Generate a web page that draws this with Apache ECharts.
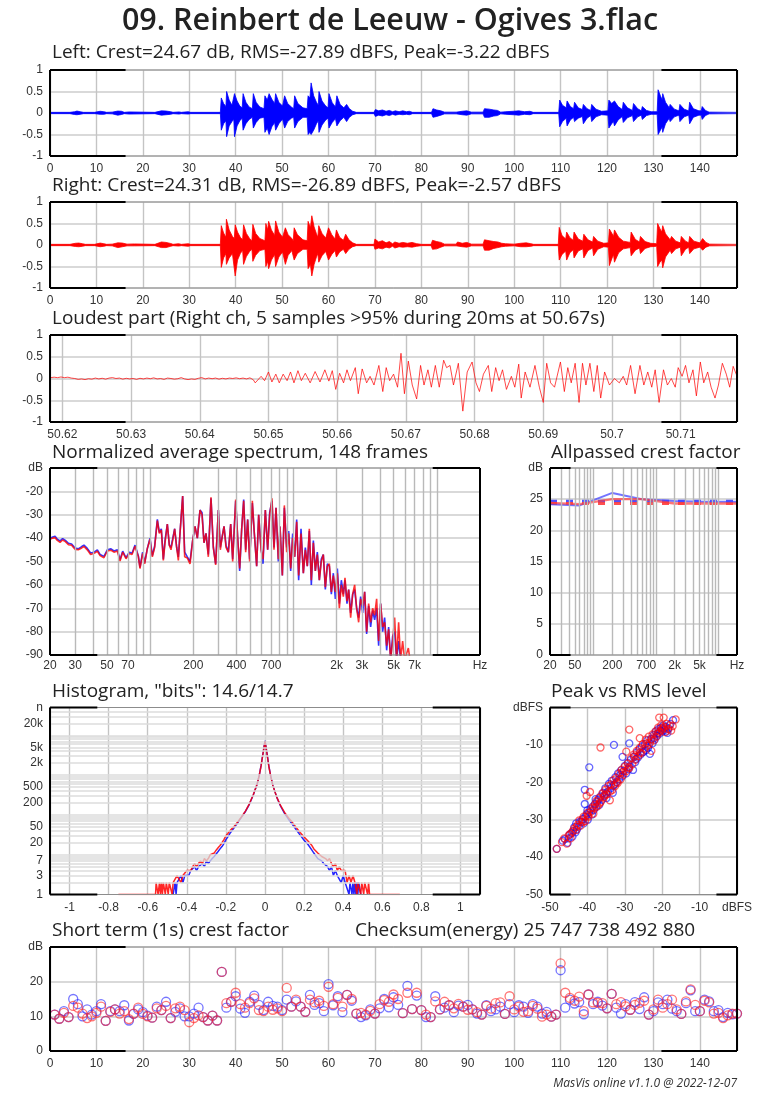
<!DOCTYPE html>
<html><head><meta charset="utf-8">
<script src="https://cdn.jsdelivr.net/npm/echarts@6/dist/echarts.min.js"></script>
<style>html,body{margin:0;padding:0;background:#fff}#c{width:770px;height:1099px}</style>
</head><body><div id="c"></div>
<script>
// ---------------- DATA ----------------
const titleText = '09. Reinbert de Leeuw - Ogives 3.flac';
const crestLeft = 24.67, crestRight = 24.31;
// waveform envelopes [time s, positive peak, negative peak]
const leftEnv = [[0,0.015,-0.015],[4.3,0.015,-0.015],[4.6,0.04,-0.04],[5.3,0.03,-0.035],[5.8,0.045,-0.04],[6.5,0.03,-0.03],[7.2,0.015,-0.015],[9.6,0.015,-0.015],[10,0.035,-0.035],[10.8,0.04,-0.03],[11.6,0.03,-0.03],[12.2,0.015,-0.015],[13.4,0.02,-0.02],[13.8,0.05,-0.05],[14.6,0.045,-0.05],[15.4,0.04,-0.035],[16,0.015,-0.015],[17,0.025,-0.025],[17.4,0.015,-0.015],[22.6,0.015,-0.015],[23,0.04,-0.04],[24,0.05,-0.05],[25,0.045,-0.04],[26,0.03,-0.03],[26.5,0.015,-0.015],[27.8,0.025,-0.025],[28.3,0.015,-0.015],[29.8,0.03,-0.025],[30.3,0.015,-0.015],[36.7,0.015,-0.015],
[36.9,0.35,-0.40],[37.4,0.22,-0.25],[37.9,0.15,-0.18],[38.05,0.50,-0.55],[38.6,0.30,-0.30],[39.2,0.18,-0.20],[39.6,0.14,-0.15],[39.75,0.45,-0.55],[40.3,0.28,-0.30],[40.9,0.16,-0.18],[41.4,0.12,-0.12],[41.6,0.45,-0.40],[42.2,0.25,-0.25],[42.9,0.14,-0.15],[43.6,0.10,-0.10],[43.8,0.45,-0.35],[44.4,0.25,-0.22],[45.2,0.14,-0.12],[46.1,0.10,-0.10],[46.3,0.40,-0.45],[46.8,0.30,-0.35],[47.2,0.45,-0.50],[47.8,0.32,-0.32],[48.4,0.22,-0.22],[48.6,0.45,-0.40],[49.3,0.25,-0.25],[50.1,0.16,-0.14],[50.4,0.12,-0.10],[50.55,0.40,-0.35],[51.2,0.22,-0.20],[52.0,0.14,-0.12],[52.5,0.10,-0.10],[52.7,0.40,-0.35],[53.4,0.22,-0.20],[54.5,0.12,-0.10],[55.4,0.10,-0.10],[55.6,0.40,-0.50],[56.0,0.35,-0.45],[56.25,0.70,-0.50],[56.8,0.40,-0.40],[57.4,0.25,-0.25],[57.8,0.18,-0.18],[57.95,0.50,-0.45],[58.6,0.28,-0.28],[59.4,0.16,-0.16],[59.9,0.12,-0.12],[60.1,0.45,-0.35],[60.8,0.24,-0.22],[61.5,0.14,-0.13],[61.8,0.40,-0.30],[62.5,0.20,-0.18],[63.3,0.12,-0.10],[63.7,0.08,-0.08],[63.9,0.20,-0.20],[64.5,0.10,-0.10],[65.2,0.04,-0.04],[66,0.015,-0.015],
[69.8,0.015,-0.015],[70.1,0.08,-0.08],[70.8,0.05,-0.05],[71.6,0.07,-0.07],[72.4,0.04,-0.04],[73.1,0.06,-0.06],[73.8,0.03,-0.03],[74.4,0.05,-0.05],[75.2,0.03,-0.03],[76,0.05,-0.04],[76.8,0.03,-0.03],[77.4,0.04,-0.04],[78.1,0.015,-0.015],[82.2,0.015,-0.015],[82.5,0.10,-0.10],[83.3,0.07,-0.08],[84.2,0.05,-0.05],[85,0.02,-0.02],[87.5,0.02,-0.02],[87.8,0.06,-0.06],[88.8,0.04,-0.04],[89.8,0.05,-0.05],[90.8,0.02,-0.02],[93.3,0.02,-0.02],[93.6,0.10,-0.10],[94.6,0.09,-0.10],[95.6,0.07,-0.07],[96.4,0.06,-0.06],[97.1,0.02,-0.02],[98.2,0.03,-0.03],[98.6,0.05,-0.05],[99.8,0.04,-0.04],[101,0.05,-0.05],[102.2,0.03,-0.03],[103.4,0.04,-0.04],[104.1,0.015,-0.015],
[109.6,0.015,-0.015],[109.8,0.30,-0.32],[110.4,0.18,-0.20],[111.2,0.12,-0.12],[111.4,0.28,-0.30],[112.1,0.15,-0.16],[112.8,0.10,-0.10],[113.0,0.25,-0.20],[113.8,0.12,-0.12],[114.7,0.08,-0.08],[114.9,0.20,-0.25],[115.7,0.10,-0.12],[116.5,0.06,-0.06],[116.7,0.20,-0.20],[117.6,0.09,-0.09],[118.8,0.04,-0.04],[120.2,0.05,-0.05],[120.4,0.30,-0.35],[121,0.22,-0.25],[121.4,0.18,-0.2],[121.6,0.28,-0.30],[122.4,0.15,-0.16],[123.3,0.08,-0.08],[123.5,0.25,-0.22],[124.4,0.12,-0.11],[125.5,0.06,-0.06],[125.7,0.22,-0.20],[126.6,0.10,-0.09],[127.4,0.05,-0.05],[127.6,0.15,-0.15],[128.5,0.06,-0.06],[129.5,0.03,-0.03],[130.8,0.03,-0.03],[131.0,0.54,-0.50],[131.5,0.40,-0.40],[131.9,0.30,-0.32],[132.0,0.45,-0.45],[132.6,0.25,-0.25],[133.4,0.12,-0.12],[133.6,0.20,-0.20],[134.5,0.09,-0.09],[135.5,0.05,-0.05],[135.7,0.20,-0.20],[136.6,0.09,-0.09],[137.6,0.05,-0.05],[137.8,0.25,-0.25],[138.6,0.10,-0.10],[139.8,0.05,-0.05],[140.3,0.05,-0.05],[140.5,0.15,-0.15],[141.2,0.06,-0.06],[142,0.02,-0.02],[148,0.015,-0.015]];
const rightEnv = [[0,0.015,-0.015],[4.3,0.015,-0.015],[4.6,0.04,-0.04],[5.5,0.04,-0.035],[6.2,0.045,-0.04],[7,0.03,-0.03],[7.6,0.015,-0.015],[9.6,0.015,-0.015],[10,0.04,-0.035],[10.8,0.045,-0.04],[11.6,0.03,-0.03],[12.2,0.015,-0.015],[13.4,0.02,-0.02],[13.8,0.06,-0.06],[14.6,0.05,-0.06],[15.6,0.045,-0.04],[16.6,0.02,-0.02],[18.2,0.025,-0.02],[18.6,0.015,-0.015],[22.6,0.015,-0.015],[23,0.05,-0.05],[24,0.07,-0.06],[25,0.06,-0.06],[26,0.035,-0.03],[26.5,0.015,-0.015],[27.7,0.03,-0.025],[28.3,0.015,-0.015],[29.8,0.03,-0.03],[30.3,0.015,-0.015],[36.7,0.015,-0.015],
[36.9,0.45,-0.52],[37.4,0.28,-0.30],[37.9,0.18,-0.20],[38.0,0.60,-0.45],[38.6,0.35,-0.30],[39.3,0.20,-0.20],[39.7,0.15,-0.16],[39.9,0.47,-0.72],[40.4,0.30,-0.35],[41.0,0.18,-0.20],[41.5,0.12,-0.12],[41.7,0.47,-0.45],[42.3,0.27,-0.27],[43.0,0.15,-0.15],[43.5,0.10,-0.10],[43.7,0.48,-0.38],[44.3,0.27,-0.24],[45.2,0.15,-0.13],[46.3,0.10,-0.10],[46.5,0.50,-0.50],[46.9,0.35,-0.38],[47.1,0.55,-0.55],[47.7,0.35,-0.35],[48.4,0.22,-0.22],[48.6,0.56,-0.50],[49.3,0.30,-0.28],[50.1,0.18,-0.16],[50.5,0.14,-0.12],[50.7,0.40,-0.45],[51.3,0.24,-0.24],[52.1,0.15,-0.13],[52.4,0.10,-0.10],[52.6,0.40,-0.35],[53.3,0.24,-0.20],[54.5,0.12,-0.10],[55.4,0.10,-0.10],[55.6,0.55,-0.55],[56.1,0.40,-0.45],[56.4,0.68,-0.72],[56.9,0.42,-0.45],[57.4,0.26,-0.28],[57.7,0.18,-0.2],[57.9,0.45,-0.40],[58.6,0.27,-0.25],[59.4,0.16,-0.15],[59.8,0.12,-0.12],[60.0,0.40,-0.35],[60.7,0.24,-0.22],[61.4,0.14,-0.13],[61.7,0.35,-0.28],[62.4,0.18,-0.16],[63.2,0.11,-0.10],[63.5,0.08,-0.08],[63.7,0.25,-0.20],[64.4,0.12,-0.10],[65.2,0.05,-0.04],[66,0.015,-0.015],
[69.8,0.015,-0.015],[70.0,0.14,-0.10],[70.8,0.07,-0.07],[71.6,0.10,-0.09],[72.4,0.05,-0.05],[73.1,0.08,-0.07],[73.8,0.03,-0.03],[74.3,0.07,-0.07],[75.2,0.04,-0.04],[76,0.06,-0.05],[77,0.04,-0.04],[78,0.06,-0.05],[79,0.03,-0.03],[80,0.015,-0.015],[82.1,0.015,-0.015],[82.4,0.11,-0.10],[83.3,0.08,-0.09],[84.2,0.06,-0.05],[85,0.02,-0.02],[87.5,0.02,-0.02],[87.8,0.07,-0.06],[88.8,0.04,-0.04],[89.8,0.06,-0.05],[90.8,0.02,-0.02],[93.3,0.02,-0.02],[93.6,0.12,-0.12],[94.6,0.10,-0.12],[95.6,0.08,-0.08],[96.5,0.07,-0.06],[97.3,0.04,-0.04],[98.1,0.03,-0.03],[100,0.02,-0.02],[100.4,0.05,-0.05],[101.4,0.04,-0.04],[102.6,0.05,-0.04],[103.6,0.03,-0.03],[104.2,0.015,-0.015],
[109.5,0.015,-0.015],[109.7,0.41,-0.35],[110.3,0.22,-0.22],[111.1,0.14,-0.14],[111.3,0.30,-0.35],[112.0,0.17,-0.18],[112.7,0.11,-0.11],[112.9,0.30,-0.30],[113.8,0.14,-0.14],[114.8,0.09,-0.09],[115.0,0.25,-0.30],[115.9,0.12,-0.13],[116.9,0.07,-0.07],[117.1,0.20,-0.25],[118.0,0.09,-0.10],[119.3,0.04,-0.04],[120.3,0.05,-0.05],[120.5,0.37,-0.48],[121.1,0.26,-0.30],[121.4,0.2,-0.22],[121.6,0.35,-0.40],[122.5,0.18,-0.18],[123.5,0.09,-0.09],[125.0,0.06,-0.06],[125.2,0.30,-0.25],[126.1,0.13,-0.12],[127.0,0.07,-0.07],[127.2,0.20,-0.20],[128.2,0.08,-0.08],[129.4,0.04,-0.04],[130.7,0.03,-0.03],[130.9,0.50,-0.50],[131.4,0.38,-0.40],[131.8,0.30,-0.35],[132.0,0.45,-0.53],[132.6,0.26,-0.28],[133.6,0.12,-0.12],[133.9,0.20,-0.20],[134.8,0.09,-0.09],[135.8,0.05,-0.05],[136.0,0.20,-0.25],[136.9,0.09,-0.10],[137.6,0.05,-0.05],[137.8,0.20,-0.20],[138.7,0.09,-0.09],[140.0,0.05,-0.05],[140.4,0.05,-0.05],[140.6,0.15,-0.12],[141.3,0.06,-0.05],[142.1,0.02,-0.02],[148,0.015,-0.015]];
// loudest part (right channel) [time s, amplitude]
const loudPart = [[50.6183,0.02],[50.6188,0.03],[50.6193,0.02],[50.6198,0.035],[50.6203,0.02],[50.6208,0.03],[50.6213,0.01],[50.6218,0.0],[50.6223,-0.02],[50.6228,-0.01],[50.6233,-0.025],[50.6238,-0.005],[50.6243,-0.015],[50.6248,0.01],[50.6253,-0.01],[50.6258,0.005],[50.6263,-0.015],[50.6268,0.01],[50.6273,0.02],[50.6278,0.0],[50.6283,0.01],[50.6288,-0.015],[50.6293,0.005],[50.6298,-0.01],[50.6303,0.0],[50.6308,-0.02],[50.6313,0.005],[50.6318,-0.01],[50.6323,0.01],[50.6328,-0.005],[50.6333,0.015],[50.6338,-0.01],[50.6343,0.0],[50.6348,-0.02],[50.6353,0.01],[50.6358,0.0],[50.6363,-0.015],[50.6368,-0.005],[50.6373,0.02],[50.6378,-0.01],[50.6383,-0.025],[50.6388,-0.01],[50.6393,-0.02],[50.6398,0.005],[50.6403,0.02],[50.6408,-0.01],[50.6413,0.01],[50.6418,-0.005],[50.6423,0.01],[50.6428,-0.015],[50.6433,0.005],[50.6438,-0.01],[50.6443,0.01],[50.6448,0.0],[50.6453,0.015],[50.6458,-0.005],[50.6463,0.01],[50.6468,-0.01],[50.6473,0.015],[50.6478,-0.03],
[50.64807,-0.1],[50.64893,0.05],[50.64943,-0.05],[50.65,0.15],[50.6505,-0.08],[50.65107,0.1],[50.65157,-0.1],[50.65214,0.1],[50.65271,-0.05],[50.65321,0.15],[50.65371,-0.1],[50.65429,0.18],[50.65479,-0.05],[50.65536,0.12],[50.65607,-0.1],[50.65679,0.16],[50.6575,-0.08],[50.65821,0.2],[50.65879,-0.06],[50.65929,0.18],[50.65979,-0.25],[50.66036,0.12],[50.66093,-0.1],[50.66143,0.2],[50.66193,-0.05],[50.66264,0.25],[50.66307,-0.35],[50.66364,0.22],[50.66429,-0.1],[50.66479,0.05],[50.66536,-0.15],[50.66607,0.3],[50.66664,-0.3],[50.66714,0.25],[50.66764,-0.05],[50.66821,0.1],[50.66879,-0.2],[50.66929,0.58],[50.66979,-0.35],[50.67036,0.4],[50.67093,-0.15],[50.67157,-0.47],[50.67214,0.3],[50.67264,-0.15],[50.67321,0.2],[50.67371,-0.2],[50.67429,0.3],[50.67486,-0.2],[50.6755,0.42],[50.67593,0.25],[50.67643,0.3],[50.67693,-0.15],[50.67764,0.35],[50.67829,-0.75],[50.67893,0.15],[50.67964,0.38],[50.68021,-0.1],[50.68071,-0.3],[50.68129,0.1],[50.682,0.3],[50.6825,-0.3],[50.68307,0.25],[50.68357,-0.05],[50.68407,0.2],[50.68464,-0.25],[50.68536,0.05],[50.68586,-0.2],[50.68643,0.33],[50.68679,-0.45],[50.68736,0.15],[50.68807,-0.2],[50.68879,0.3],[50.68943,-0.2],[50.69,-0.55],[50.6905,0.35],[50.69107,-0.1],[50.69164,-0.2],[50.6925,0.38],[50.69307,-0.3],[50.69357,0.25],[50.69407,-0.1],[50.69464,0.35],[50.69521,-0.55],[50.69571,0.35],[50.69621,-0.15],[50.69679,0.35],[50.69736,-0.3],[50.69786,0.3],[50.69836,-0.45],[50.69893,0.15],[50.69964,-0.15],[50.70036,0.0],[50.70107,-0.1],[50.70164,0.05],[50.70214,-0.15],[50.70271,0.3],[50.70336,-0.35],[50.70407,0.3],[50.70464,-0.15],[50.70521,0.15],[50.70579,-0.2],[50.70629,0.2],[50.70686,-0.55],[50.7075,0.2],[50.70807,-0.15],[50.70864,0.0],[50.70921,-0.2],[50.70964,0.25],[50.71021,0.05],[50.71071,0.3],[50.71121,-0.1],[50.71179,0.2],[50.71229,-0.4],[50.71286,0.38],[50.71336,-0.1],[50.71393,0.15],[50.71443,-0.2],[50.715,-0.45],[50.7155,-0.15],[50.71607,0.35],[50.71664,0.1],[50.71714,-0.2],[50.71764,0.28],[50.71821,0.05]];
// spectrum
const specFreq = [20,20.9,21.7,22.5,23.5,24.5,25.6,26.9,28.3,29.9,31.5,33.3,34.5,36.4,38.4,40.6,42.8,44.7,47.6,50.2,53.3,55.9,59.0,61.6,64.3,67.8,71.5,74.7,78.4,82.7,84.9,88.6,91.5,95.5,99.7,103.5,107.4,112.2,115.8,119.6,123.5,126.9,131.7,136.0,139.7,143.5,148.2,153.0,157.2,161.4,168.5,174.0,181.6,189.6,197.9,205.4,213.3,222.6,229.9,237.4,245.1,254.5,265.6,275.8,286.3,298.9,308.6,318.7,327.4,338.1,351.0,364.5,376.3,394.9,407.8,421.1,434.9,449.1,463.7,478.8,494.4,516.0,532.9,553.2,571.3,593.2,612.5,635.9,660.1,681.8,707.8,730.9,754.8,783.6,805.0,835.7,863.0,896.0,925.2,955.4,986.5,1019,1052,1086,1128,1171,1209,1248,1289,1331,1375,1420,1466,1514,1563,1614,1667,1721,1778,1836,1896,1958,2022,2088,2156,2226,2286,2361,2425,2504,2586,2670,2757,2847,2940,3036,3135,3237,3343,3452,3565,3681,3801,3925,4054,4186,4322,4464,4609,4759,4915,5075,5241,5412,5588,5771,5959,6325,6495];
const specRight = [-40.5,-40,-39.8,-41,-41.8,-40.8,-41.5,-42.8,-43,-44.8,-45,-44.2,-43.6,-45,-47,-46.5,-45.6,-47.5,-48.4,-45.5,-45.2,-46,-45.5,-49.8,-46,-48.8,-46.6,-47,-43.5,-48,-53,-46.5,-51,-44.5,-40.5,-48,-44,-32.5,-38,-36.5,-49.5,-42,-34,-43,-45,-45,-36,-44,-49.5,-38,-22,-48,-48.5,-51,-41,-35,-40,-28,-30,-42,-38,-48,-22.5,-44,-51.5,-28,-45,-39,-35,-44,-46,-34,-50,-23.5,-40,-53,-36,-24,-46,-32,-50,-24,-38,-52,-30,-45,-49,-28,-45,-30,-23,-45,-27,-49,-35,-56,-26,-46,-38,-53,-40,-48,-33,-56,-38,-55,-45,-52,-36,-58,-42,-54,-47,-58,-50,-47,-61,-52,-51,-63,-56,-63,-55,-70,-60,-65,-57,-67,-62,-74,-64,-60,-70,-76,-66,-69,-63,-80,-68,-76,-70,-73,-66,-84,-68,-78,-76,-86,-79,-92,-84,-74,-92,-76,-92,-84,-92,-87,-92];
const specLeft = [-40,-39.5,-39.2,-40.5,-41.2,-40.2,-41,-42.2,-42.5,-44.2,-44.6,-43.6,-43,-44.4,-46.4,-46,-45,-47,-47.8,-45,-44.6,-45.5,-45,-49.2,-45.6,-48.4,-46,-46.5,-43,-47.6,-52.5,-46,-50.5,-44.5,-40,-47.5,-43.5,-32,-37.5,-36,-49,-41,-34,-43,-44,-44,-36,-44,-48,-38,-22,-46,-48,-50,-41,-35,-40,-28,-29,-42,-38,-47,-23,-44,-51,-28,-44,-39,-35,-43,-46,-34,-49,-24,-40,-54,-36,-23.5,-45,-32,-49,-25,-38,-52,-30,-44,-51,-28,-45,-29,-24,-44,-27,-50,-35,-56,-27,-44,-37,-54,-38,-48,-32,-58,-36,-55,-44,-52,-37,-60,-41,-54,-46,-58,-49,-47,-62,-51,-52,-64,-55,-66,-53,-68,-58,-64,-58,-68,-62,-72,-64,-62,-70,-74,-65,-72,-63,-81,-69,-78,-71,-75,-70,-86,-68,-80,-74,-88,-78,-92,-82,-80,-92,-84,-92,-92,-92,-92,-92];
const specGridFreq = [30,40,50,60,70,80,90,100,200,300,400,500,600,700,800,900,1000,2000,3000,4000,5000,6000,7000,8000,9000,10000];
const specTickFreq = [20,30,50,70,200,400,700,2000,3000,5000,7000,20000];
const specTickText = ['20','30','50','70','200','400','700','2k','3k','5k','7k','Hz'];
// allpassed crest factor
const apFreq = [20,60,200,600,2000,6000,20000];
const apLeft = [24.2,24.0,26.0,25.0,24.7,24.6,24.6];
const apRight = [24.4,24.2,25.0,25.0,24.3,24.3,24.3];
const apTickFreq = [20,50,200,700,2000,5000,20000];
const apTickText = ['20','50','200','700','2k','5k','Hz'];
// histogram [sample value, count]
const histRight = [[-0.75,1],[-0.56,1],[-0.557,2],[-0.55,2],[-0.547,1],[-0.54,2],[-0.535,1],[-0.53,2],[-0.525,1],[-0.52,2],[-0.515,2],[-0.51,1],[-0.505,2],[-0.5,2],[-0.495,1],[-0.49,2],[-0.48,2],[-0.475,1],[-0.47,2],[-0.46,2],[-0.45,3],[-0.44,3],[-0.43,2],[-0.42,3],[-0.41,3],[-0.4,4],[-0.39,4],[-0.38,4],[-0.37,5],[-0.36,6],[-0.35,5],[-0.34,6],[-0.33,7],[-0.32,6],[-0.31,8],[-0.3,7],[-0.29,8],[-0.28,10],[-0.27,9],[-0.26,11],[-0.25,13],[-0.24,15],[-0.23,17],[-0.22,20],[-0.21,24],[-0.2,30],[-0.19,34],[-0.18,40],[-0.16,50],[-0.14,66],[-0.12,90],[-0.1,125],[-0.08,190],[-0.06,320],[-0.04,600],[-0.03,950],[-0.02,1700],[-0.01,3500],[0,7000],[0.01,3500],[0.02,1600],[0.03,900],[0.04,550],[0.06,280],[0.08,170],[0.1,115],[0.12,85],[0.14,65],[0.16,48],[0.18,36],[0.2,28],[0.22,22],[0.24,17],[0.25,14],[0.26,13],[0.27,11],[0.28,12],[0.29,9],[0.3,10],[0.31,8],[0.32,7],[0.33,8],[0.34,6],[0.35,5],[0.36,6],[0.37,4],[0.38,5],[0.39,4],[0.4,4],[0.41,4],[0.42,2],[0.43,3],[0.44,2],[0.45,3],[0.46,2],[0.47,1],[0.475,2],[0.48,2],[0.49,1],[0.495,2],[0.5,2],[0.505,1],[0.51,2],[0.52,2],[0.525,1],[0.53,2],[0.535,1],[0.69,1]];
const histLeft = [[-0.47,1],[-0.46,2],[-0.455,1],[-0.45,2],[-0.44,2],[-0.43,3],[-0.42,2],[-0.41,3],[-0.4,3],[-0.39,3],[-0.38,4],[-0.37,4],[-0.36,5],[-0.35,4],[-0.34,5],[-0.33,5],[-0.32,6],[-0.31,5],[-0.3,7],[-0.29,6],[-0.28,7],[-0.27,8],[-0.26,9],[-0.25,10],[-0.24,12],[-0.23,14],[-0.22,16],[-0.21,19],[-0.2,24],[-0.19,28],[-0.18,34],[-0.16,46],[-0.14,63],[-0.12,88],[-0.1,122],[-0.08,185],[-0.06,315],[-0.04,600],[-0.03,960],[-0.02,1750],[-0.01,3600],[0,7300],[0.01,3600],[0.02,1650],[0.03,920],[0.04,560],[0.06,280],[0.08,165],[0.1,110],[0.12,78],[0.14,58],[0.16,42],[0.18,31],[0.2,23],[0.22,18],[0.24,13],[0.25,11],[0.26,10],[0.27,8],[0.28,8],[0.29,7],[0.3,6],[0.31,6],[0.32,5],[0.33,4],[0.34,5],[0.35,3],[0.36,4],[0.37,3],[0.38,3],[0.39,2],[0.4,3],[0.41,2],[0.42,2],[0.43,1],[0.435,2],[0.44,2],[0.445,1],[0.45,2],[0.455,1],[0.46,2],[0.465,1],[0.47,2],[0.475,1],[0.48,2],[0.49,1]];
const histGridCount = [2,3,4,5,6,7,8,9,10,20,30,40,50,60,70,80,90,100,200,300,400,500,600,700,800,900,1000,2000,3000,4000,5000,6000,7000,8000,9000,10000,20000,30000,40000];
const histTickCount = [1,3,7,20,50,200,500,2000,5000,20000,50000];
const histTickText = ['1','3','7','20','50','200','500','2k','5k','20k','n'];
// peak vs RMS [rms dBFS, peak dBFS]
const pvrLeft = [[-48.2,-37.8],[-46.6,-35.6],[-46,-35.2],[-45.3,-36.2],[-45,-35],[-44.8,-34],[-44.2,-33.6],[-44,-34.5],[-43.8,-33],[-43.5,-32],[-43.2,-33.4],[-43,-31],[-42.8,-32.6],[-42.3,-31.8],[-42,-30.5],[-41.6,-30.6],[-41.2,-29.8],[-41,-31],[-40.7,-22],[-40.7,-25.8],[-40.5,-29.2],[-40.2,-28.6],[-40,-27.5],[-39.9,-30],[-39.5,-16],[-39.5,-28],[-39.2,-27.2],[-38.8,-28.6],[-38.6,-26.5],[-38.3,-27.4],[-38,-25.8],[-37.8,-24.5],[-37.7,-26.6],[-37.4,-25.2],[-37,-24.6],[-36.8,-26],[-36.5,-23.8],[-36.1,-24.7],[-35.8,-22.8],[-35.5,-23.6],[-35.2,-21.6],[-35,-23],[-34.9,-24.2],[-34.5,-22.5],[-34.2,-20.4],[-33.8,-21.6],[-33.5,-19.6],[-33.2,-22.8],[-33,-20.8],[-32.9,-10],[-32.8,-20.6],[-32.5,-18.6],[-32.2,-20],[-31.8,-17.6],[-31.5,-19.2],[-31.2,-18],[-31,-16.8],[-30.7,-18.4],[-30.6,-13.2],[-30.3,-17],[-30,-15.6],[-29.6,-17.6],[-29.2,-14.8],[-29,-16.5],[-28.8,-9.6],[-28.8,-15.8],[-28.4,-14],[-27.8,-16.7],[-27.6,-13.2],[-27.2,-14.6],[-27,-13.8],[-26.8,-12],[-26.5,-13.4],[-26.1,-11.2],[-25.8,-12.6],[-25.4,-10.4],[-25.2,-12],[-25,-11.8],[-24.6,-9.8],[-24.3,-11.4],[-24,-8.8],[-23.8,-10.8],[-23.6,-10.2],[-23.3,-12.4],[-23,-8.4],[-22.6,-9.6],[-22.3,-7.4],[-22.2,-8.2],[-22,-8.6],[-21.7,-6.4],[-21.4,-7.6],[-21.2,-6.9],[-21,-5.8],[-20.7,-7],[-20.5,-6.2],[-20.3,-5.4],[-20,-6.4],[-19.7,-4.8],[-19.5,-5.6],[-19.3,-6],[-19,-5.2],[-18.9,-6.4],[-18.6,-6.8],[-18.3,-5.6],[-17.8,-4.4],[-17.1,-3.4]];
const pvrRight = [[-48.2,-37.8],[-46.8,-36],[-46.2,-35],[-45.5,-36.4],[-45,-34.2],[-44.5,-35],[-44,-33.2],[-43.6,-32.4],[-43,-32.8],[-42.6,-31.4],[-42.2,-30.2],[-41.8,-31.6],[-41.4,-30],[-41,-29.2],[-40.6,-30.4],[-40.2,-23.6],[-40,-28.2],[-39.7,-29.2],[-39.3,-22.6],[-39,-27.8],[-38.7,-26.8],[-38.4,-28.4],[-38,-26],[-37.6,-25],[-37.3,-26.4],[-36.9,-24.2],[-36.5,-10.7],[-36.4,-25.2],[-36,-23],[-35.6,-24],[-35.2,-22],[-34.8,-23.2],[-34.4,-21],[-34,-24.8],[-33.7,-20.6],[-33.3,-22],[-33,-19.4],[-32.6,-21],[-32.3,-18.8],[-31.9,-20.2],[-31.5,-17.6],[-31.1,-19.2],[-30.8,-16.6],[-30.4,-18],[-30,-15.8],[-29.6,-11.8],[-29.6,-17],[-29.2,-15],[-28.8,-5.9],[-28.8,-16.2],[-28.4,-13.6],[-28,-15.2],[-27.6,-12.6],[-27.2,-14],[-26.8,-11.6],[-26.4,-13],[-26,-8.2],[-26,-10.8],[-25.6,-12.2],[-25.2,-9.8],[-24.8,-11],[-24.4,-8.6],[-24,-10.2],[-23.6,-7.8],[-23.3,-9.4],[-22.9,-11.6],[-22.6,-7.2],[-22.2,-8.8],[-21.8,-6.4],[-21.5,-7.8],[-21.1,-5.4],[-20.8,-2.7],[-20.7,-6.6],[-20.3,-4.8],[-20,-6],[-19.6,-2.7],[-19.6,-5.2],[-19.2,-6.6],[-18.8,-4.4],[-18.4,-5.8],[-18,-4.8],[-17.6,-6.2],[-17.2,-5],[-16.4,-3.2],[-44.6,-33.8],[-42.9,-31.9],[-41.2,-30.6],[-39.8,-28.8],[-38.2,-27],[-36.7,-25.6],[-35.4,-23.4],[-33.9,-22.4],[-32.1,-19.9],[-30.6,-17.3],[-29,-16],[-27.4,-13.1],[-25.9,-12],[-24.2,-9.6],[-22.8,-8.5],[-21.3,-7],[-19.9,-5.6]];
// short-term (1 s) crest factor, one value per second (1..148)
const stLeft = [10.5,9.3,11.5,9.8,15,13.5,10,12,10.5,11.5,13.5,8.7,11.5,12,11.5,13.2,8.8,10.7,12,11.2,10.2,9.6,12.8,11.8,14.2,9.5,11.3,12.3,10,10,10.8,12.5,9.8,8.8,10.2,8.8,22.8,12.5,14.2,15.8,12.2,11,14.2,16,13.3,11.8,14.2,13,12.8,11.8,14.8,12.8,14.3,12.8,11.3,16.2,13.3,13.8,11.5,19.3,13.2,15.8,11.2,16.2,14.5,10.8,9.8,10.3,12,10.8,12.3,15,12.6,15.5,13.3,10.9,18.8,12.1,16,11.8,9.8,9.8,15.8,12,12.5,13.2,11.2,13.1,12.8,13.3,12,10.8,10.5,13.2,11.5,12,12.8,10.7,13.5,11.2,13.2,12.8,11,13.5,12.8,10.8,11.3,9.9,10.5,23.3,12.5,14.8,13.7,14.1,10.6,16.3,13.5,14.2,13.1,12.3,16.5,12.5,10.8,13.5,11.9,14.1,12.1,15.5,10.5,11.5,14,13.5,14.8,12.2,11.5,10.7,13.8,17.5,11.5,11.5,14.8,14.3,11.5,11.8,9.8,11,10.6,10.8];
const stRight = [10.5,9.3,11,9.8,13,12.5,10.8,9.5,10,11,12.8,8.7,11.3,12,10.8,11.5,9.2,10.8,12.5,10.7,10,9.6,12.3,11.8,13,9.5,12.3,12.8,11.8,8.3,9.5,10.3,9.8,8.8,10.2,8.8,22.8,13.8,14.2,16.8,13.5,12.5,13.8,15.2,11.8,11.5,12.8,11.9,12.3,11.5,18.2,12.8,14.8,12.8,11.3,14.8,14,14.5,13,18.5,13.5,15.3,12.8,16.2,15,10.8,11,10.5,11.6,10.8,13.5,14.7,14.2,16.3,15,10.9,16.8,12.1,16.8,11.8,10.5,9.8,14.3,12,14.2,13.2,12.3,13.6,12.8,11.9,12,11.2,10.5,13,12.2,13.8,14,10.7,15.8,12,12.8,11.3,11.5,13,12.2,9.9,10.5,9.9,10.5,25.3,16.8,15.3,14.5,15.7,11.5,16.3,14,13.9,13.8,12.3,16.5,13.5,14.1,12.9,11.9,13.3,13.9,14.5,10.5,12,14.8,12.5,13.5,14.8,12,10.7,14.3,17.8,13.3,11.5,14.5,14,10.8,11,9.5,10.3,10.8,10.8];

// ---------------- CHART ----------------
const FONT = '"Liberation Sans", Arial, sans-serif';
const TFONT = '"Open Sans", sans-serif';
const BLUE = '#0000ff', RED = '#ff0000';
const G = [[50,70,687,86],[50,202,687,86],[50,335,687,87],[50,468,430,187],[550,468,187,187],[50,707.5,430,187],[550,707.5,187,187],[50,947,687,104]];

function axis(gi, o, label, split) {
  return Object.assign({
    gridIndex: gi, type: 'value', axisLine: {show: false}, axisTick: {show: false},
    axisLabel: Object.assign({color: '#333', fontSize: 12, fontFamily: FONT, margin: 7}, label || {}),
    splitLine: Object.assign({show: true, lineStyle: {color: '#cfcfcf', width: 1.5}}, split || {})
  }, o);
}
const tens = v => (Math.abs(v % 10) < 1e-9 ? String(v) : '');
const vGrid = {lineStyle: {color: '#c4c4c4', width: 1.4}};
const hGrid = {lineStyle: {color: '#d9d9d9', width: 2}};

const xAxis = [
  axis(0, {min: 0, max: 148, interval: 10}, {formatter: tens}, vGrid),
  axis(1, {min: 0, max: 148, interval: 10}, {formatter: tens}, vGrid),
  axis(2, {min: 50.6182, max: 50.7182, splitNumber: 10}, {showMinLabel: false, showMaxLabel: false}, vGrid),
  axis(3, {type: 'log', logBase: 10, min: 20, max: 20000}, {show: false}, {show: false}),
  axis(4, {type: 'log', logBase: 10, min: 20, max: 20000}, {show: false}, {show: false}),
  axis(5, {min: -1.1, max: 1.1, splitNumber: 11}, {showMinLabel: false, showMaxLabel: false}, vGrid),
  axis(6, {min: -50, max: 0, interval: 10}, {formatter: v => v === 0 ? 'dBFS' : String(v)}, vGrid),
  axis(7, {min: 0, max: 148, interval: 10}, {formatter: tens}, vGrid)
];
const yAxis = [
  axis(0, {min: -1, max: 1, interval: 0.5}, {}, hGrid),
  axis(1, {min: -1, max: 1, interval: 0.5}, {}, hGrid),
  axis(2, {min: -1, max: 1, interval: 0.5}, {}, hGrid),
  axis(3, {min: -90, max: -10, interval: 10}, {formatter: v => v === -10 ? 'dB' : String(v)}, hGrid),
  axis(4, {min: 0, max: 30, interval: 5}, {formatter: v => v === 30 ? 'dB' : String(v)}, hGrid),
  axis(5, {type: 'log', logBase: 10, min: 1, max: 50000}, {show: false}, {show: false}),
  axis(6, {min: -50, max: 0, interval: 10}, {formatter: v => v === 0 ? 'dBFS' : String(v)}, hGrid),
  axis(7, {min: 0, max: 30, interval: 10}, {formatter: v => v === 30 ? 'dB' : String(v)}, hGrid)
];

function gridLines(i, vals, dim, color, width) {
  return {type: 'line', xAxisIndex: i, yAxisIndex: i, data: [], silent: true, z: 1,
    markLine: {silent: true, symbol: ['none', 'none'], animation: false, label: {show: false},
      lineStyle: {color: color, width: width, type: 'solid'},
      emphasis: {disabled: true},
      data: vals.map(v => ({[dim]: v}))}};
}
function tickLabels(i, vals, texts, dim, dist) {
  return {type: 'line', xAxisIndex: i, yAxisIndex: i, data: [], silent: true, z: 1,
    markLine: {silent: true, symbol: ['none', 'none'], animation: false,
      lineStyle: {color: 'rgba(0,0,0,0)', width: 1, type: 'solid'},
      emphasis: {disabled: true},
      label: {show: true, position: 'start', distance: dist, color: '#333', fontSize: 12, fontFamily: FONT},
      data: vals.map((v, k) => ({[dim]: v, label: {show: true, formatter: texts[k]}}))}};
}
function wave(i, env, color) {
  const base = {type: 'line', xAxisIndex: i, yAxisIndex: i, symbol: 'none', z: 3,
    lineStyle: {color: color, width: 0.8}, areaStyle: {color: color, opacity: 1}};
  return [Object.assign({data: env.map(d => [d[0], d[1]])}, base),
          Object.assign({data: env.map(d => [d[0], d[2]])}, base)];
}
function line(i, data, color, width, extra) {
  return Object.assign({type: 'line', xAxisIndex: i, yAxisIndex: i, symbol: 'none', z: 3,
    data: data, lineStyle: {color: color, width: width}}, extra || {});
}
function scatter(i, data, color, size) {
  return {type: 'scatter', xAxisIndex: i, yAxisIndex: i, data: data, symbol: 'circle', symbolSize: size, z: 3,
    itemStyle: {color: 'rgba(0,0,0,0)', borderColor: color, borderWidth: 1.3}};
}

const series = [].concat(
  wave(0, leftEnv, BLUE),
  wave(1, rightEnv, RED),
  [line(2, loudPart, 'rgba(255,0,0,0.72)', 1)],
  [gridLines(3, specGridFreq, 'xAxis', '#b9b9b9', 1.4), tickLabels(3, specTickFreq, specTickText, 'xAxis', 5),
   line(3, specFreq.map((f, k) => [f, specLeft[k]]), 'rgba(0,0,255,0.8)', 1.6),
   line(3, specFreq.map((f, k) => [f, specRight[k]]), 'rgba(255,0,0,0.8)', 1.6)],
  [gridLines(4, specGridFreq, 'xAxis', '#b9b9b9', 1.4), tickLabels(4, apTickFreq, apTickText, 'xAxis', 5),
   line(4, [[20, crestLeft], [20000, crestLeft]], 'rgba(60,60,255,0.9)', 3, {lineStyle: {color: 'rgba(60,60,255,0.9)', width: 3, type: [7, 9]}}),
   line(4, [[20, crestRight], [20000, crestRight]], 'rgba(255,60,60,0.9)', 3, {lineStyle: {color: 'rgba(255,60,60,0.9)', width: 3, type: [7, 9]}}),
   line(4, apFreq.map((f, k) => [f, apLeft[k]]), 'rgba(70,70,255,0.75)', 2),
   line(4, apFreq.map((f, k) => [f, apRight[k]]), 'rgba(255,60,60,0.7)', 2.4)],
  [gridLines(5, histGridCount, 'yAxis', '#dcdcdc', 1.5), tickLabels(5, histTickCount, histTickText, 'yAxis', 7),
   line(5, histLeft, 'rgba(0,0,255,0.85)', 1.5),
   line(5, histRight, 'rgba(255,0,0,0.85)', 1.5)],
  [scatter(6, pvrLeft, 'rgba(0,0,255,0.75)', 7), scatter(6, pvrRight, 'rgba(255,0,0,0.75)', 7)],
  [scatter(7, stLeft.map((v, k) => [k + 1, v]), 'rgba(40,40,255,0.8)', 9),
   scatter(7, stRight.map((v, k) => [k + 1, v]), 'rgba(255,40,40,0.8)', 9)]
);

function frame(g) {
  const [l, t, w, h] = g, s = w * 0.11;
  const L = (x1, y1, x2, y2) => ({type: 'line', silent: true, z: 100, shape: {x1, y1, x2, y2}, style: {stroke: '#000', lineWidth: 2}});
  return [
    {type: 'rect', silent: true, z: 99, shape: {x: l, y: t, width: w, height: h}, style: {fill: null, stroke: '#8c8c8c', lineWidth: 1}},
    L(l, t, l, t + h), L(l + w, t, l + w, t + h),
    L(l, t, l + s, t), L(l + w - s, t, l + w, t),
    L(l, t + h, l + s, t + h), L(l + w - s, t + h, l + w, t + h)
  ];
}
function txt(x, y, s, font, align, color) {
  return {type: 'text', x: x, y: y, silent: true, z: 100,
    style: {text: s, fill: color || '#222', font: font || ('19px ' + TFONT), align: align || 'left', textAlign: align || 'left', verticalAlign: 'middle', textVerticalAlign: 'middle'}};
}
let graphics = [];
G.forEach(g => { graphics = graphics.concat(frame(g)); });
graphics.push(
  txt(390, 21, titleText, '600 30.5px ' + TFONT, 'center', '#222'),
  txt(52, 53, 'Left: Crest=24.67 dB, RMS=-27.89 dBFS, Peak=-3.22 dBFS'),
  txt(52, 186, 'Right: Crest=24.31 dB, RMS=-26.89 dBFS, Peak=-2.57 dBFS'),
  txt(52, 319, 'Loudest part (Right ch, 5 samples >95% during 20ms at 50.67s)'),
  txt(52, 453, 'Normalized average spectrum, 148 frames'),
  txt(551, 453, 'Allpassed crest factor'),
  txt(52, 692, 'Histogram, "bits": 14.6/14.7'),
  txt(551, 692, 'Peak vs RMS level'),
  txt(52, 931, 'Short term (1s) crest factor'),
  txt(355, 931, 'Checksum(energy) 25 747 738 492 880'),
  txt(737, 1084, 'MasVis online v1.1.0 @ 2022-12-07', 'italic 12px ' + TFONT, 'right', '#333')
);

const chart = echarts.init(document.getElementById('c'), null, {renderer: 'canvas'});
chart.setOption({
  animation: false,
  backgroundColor: '#fff',
  grid: G.map(g => ({left: g[0], top: g[1], width: g[2], height: g[3]})),
  xAxis: xAxis,
  yAxis: yAxis,
  series: series,
  graphic: {elements: graphics}
});
</script></body></html>
